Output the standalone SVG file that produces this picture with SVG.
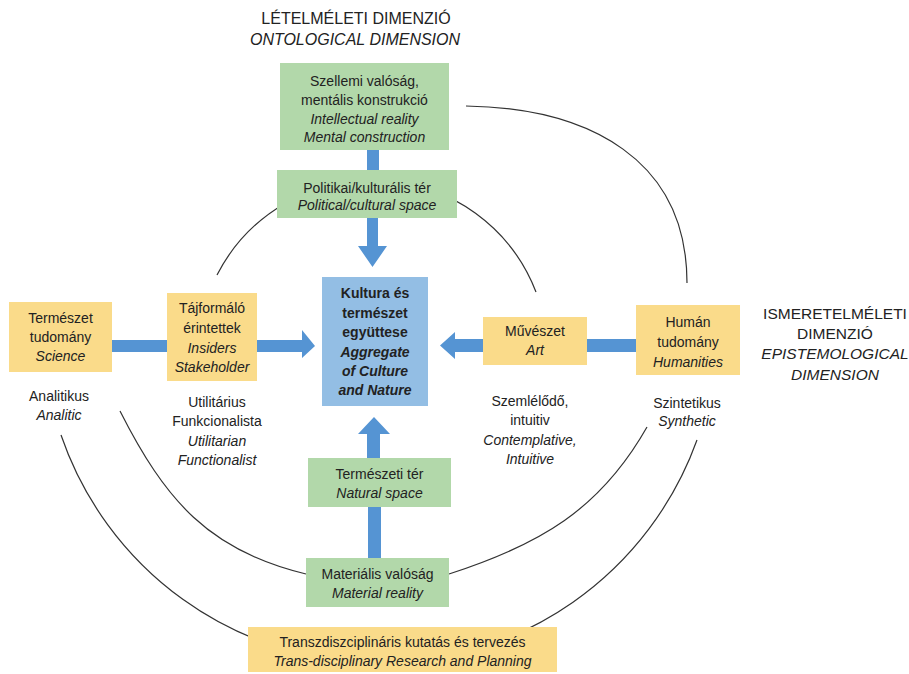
<svg xmlns="http://www.w3.org/2000/svg" width="909" height="674" viewBox="0 0 909 674">
<style>
.t{font-family:"Liberation Sans",Arial,sans-serif;font-size:14px;fill:#222;text-anchor:middle}
.i{font-style:italic}
.b{font-weight:bold}
.h{font-size:16px}
.h2{font-size:15.5px}
.g{fill:#B2D8AA}
.y{fill:#FADB8A}
.bl{fill:#93BEE4}
.arc{fill:none;stroke:#333;stroke-width:1.2}
.ar{fill:#5594D3}
</style>
<rect width="909" height="674" fill="#fff"/>
<g id="connectors">
<path class="arc" d="M466,106 C590,108 687,160 687,283"/>
<path class="arc" d="M217,275 A175,175 0 0 1 536,292"/>
<path class="arc" d="M120,411 C165,500 209,551 306,574"/>
<path class="arc" d="M449,574 C539,545 600,510 647,427"/>
<path class="arc" d="M61,435 A337,337 0 0 0 697,440"/>
<rect class="ar" x="367" y="150" width="12" height="20"/>
<polygon class="ar" points="367,218 378,218 378,246 387,246 372.5,267 358,246 367,246"/>
<rect class="ar" x="112" y="340" width="55" height="12"/>
<polygon class="ar" points="257,340 302,340 302,330 315,346 302,358 302,352 257,352"/>
<rect class="ar" x="587" y="339" width="49" height="13"/>
<polygon class="ar" points="483,339 455,339 455,332 440,345.5 455,359 455,352 483,352"/>
<polygon class="ar" points="367,458 367,434 358,434 374,417 390,434 380,434 380,458"/>
<rect class="ar" x="368" y="507" width="13" height="51"/>
</g>
<g id="title-ontological">
<text class="t h" x="356" y="24">LÉTELMÉLETI DIMENZIÓ</text>
<text class="t h i" x="355" y="45">ONTOLOGICAL DIMENSION</text>
</g>
<g id="title-epistemological">
<text class="t h2" x="835" y="319">ISMERETELMÉLETI</text>
<text class="t h2" x="835" y="339">DIMENZIÓ</text>
<text class="t h2 i" x="835" y="359">EPISTEMOLOGICAL</text>
<text class="t h2 i" x="835" y="380">DIMENSION</text>
</g>
<g id="n-szellemi">
<rect class="g" x="280" y="63" width="169" height="87"/>
<text class="t" x="364.5" y="86">Szellemi valóság,</text>
<text class="t" x="364.5" y="104.5">mentális konstrukció</text>
<text class="t i" x="364.5" y="123.5">Intellectual reality</text>
<text class="t i" x="364.5" y="142">Mental construction</text>
</g>
<g id="n-politikai">
<rect class="g" x="277" y="170" width="180" height="48"/>
<text class="t" x="367" y="193">Politikai/kulturális tér</text>
<text class="t i" x="367" y="210">Political/cultural space</text>
</g>
<g id="n-center">
<rect class="bl" x="322" y="277" width="106" height="129"/>
<text class="t b" x="375" y="298">Kultura és</text>
<text class="t b" x="375" y="317.5">természet</text>
<text class="t b" x="375" y="337">együttese</text>
<text class="t b i" x="375" y="356.5">Aggregate</text>
<text class="t b i" x="375" y="376">of Culture</text>
<text class="t b i" x="375" y="395">and Nature</text>
</g>
<g id="n-termeszet">
<rect class="y" x="9" y="302" width="103" height="70"/>
<text class="t" x="60.5" y="323">Természet</text>
<text class="t" x="60.5" y="342">tudomány</text>
<text class="t i" x="60.5" y="361">Science</text>
</g>
<g id="n-tajformalo">
<rect class="y" x="167" y="293" width="90" height="88"/>
<text class="t" x="212" y="313">Tájformáló</text>
<text class="t" x="212" y="333">érintettek</text>
<text class="t i" x="212" y="353">Insiders</text>
<text class="t i" x="212" y="372">Stakeholder</text>
</g>
<g id="n-muveszet">
<rect class="y" x="483" y="317" width="104" height="48"/>
<text class="t" x="535" y="336">Művészet</text>
<text class="t i" x="535" y="355">Art</text>
</g>
<g id="n-human">
<rect class="y" x="636" y="305" width="104" height="70"/>
<text class="t" x="688" y="327">Humán</text>
<text class="t" x="688" y="347">tudomány</text>
<text class="t i" x="688" y="367">Humanities</text>
</g>
<g id="n-termeszeti-ter">
<rect class="g" x="308" y="458" width="143" height="49"/>
<text class="t" x="379.5" y="479">Természeti tér</text>
<text class="t i" x="379.5" y="498">Natural  space</text>
</g>
<g id="n-materialis">
<rect class="g" x="306" y="558" width="143" height="49"/>
<text class="t" x="377.5" y="579">Materiális valóság</text>
<text class="t i" x="377.5" y="598">Material reality</text>
</g>
<g id="n-transz">
<rect class="y" x="248" y="627" width="309" height="45"/>
<text class="t" x="402.5" y="647">Transzdiszciplináris kutatás és tervezés</text>
<text class="t i" x="402.5" y="666">Trans-disciplinary Research and Planning</text>
</g>
<g id="labels">
<text class="t" x="59" y="401">Analitikus</text>
<text class="t i" x="59" y="420">Analitic</text>
<text class="t" x="217" y="407">Utilitárius</text>
<text class="t" x="217" y="426">Funkcionalista</text>
<text class="t i" x="217" y="446">Utilitarian</text>
<text class="t i" x="217" y="465">Functionalist</text>
<text class="t" x="530" y="406">Szemlélődő,</text>
<text class="t" x="530" y="425">intuitiv</text>
<text class="t i" x="530" y="445">Contemplative,</text>
<text class="t i" x="530" y="464">Intuitive</text>
<text class="t" x="687" y="408">Szintetikus</text>
<text class="t i" x="687" y="426">Synthetic</text>
</g>
</svg>
